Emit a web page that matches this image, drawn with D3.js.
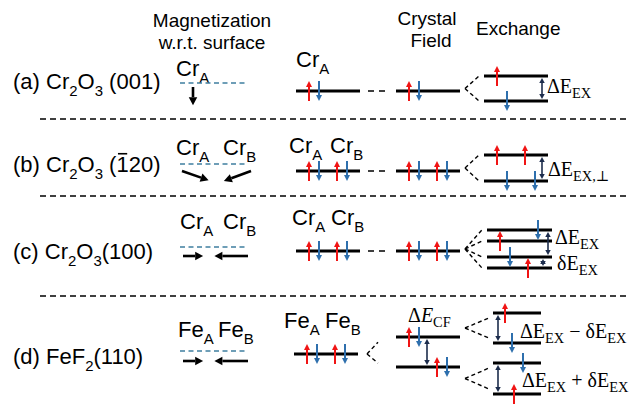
<!DOCTYPE html>
<html lang="en">
<head>
<meta charset="UTF-8">
<title>Magnetization and level splitting</title>
<style>
  html, body { margin: 0; padding: 0; background: #fff; }
  svg text { white-space: pre; }
</style>
</head>
<body>
<script src="https://d3js.org/d3.v7.min.js"></script>
<script>
// ---- data ----
const panelIds = ['(a)', '(b)', '(c)', '(d)'];
const compounds = ['Cr_2O_3', 'Cr_2O_3', 'Cr_2O_3', 'FeF_2'];
const facets = [' (001)', ' (^1^20)', '(100)', '(110)'];   // ^1^ = overlined 1
const siteLabels = [['Cr_A'], ['Cr_A', 'Cr_B'], ['Cr_A', 'Cr_B'], ['Fe_A', 'Fe_B']];
// moment per site [mx, my], my < 0 points into the surface
const moments = [
  [[0, -0.65]],
  [[0.95, -0.33], [-0.97, -0.36]],
  [[0.72, 0], [-1.2, 0]],
  [[0.72, 0], [-1.2, 0]]
];
// spins: [slot, dir] on the atomic level
const atomSpins = [
  [[0, 'u'], [1, 'd']],
  [[0, 'u'], [1, 'd'], [2.8, 'u'], [3.8, 'd']],
  [[0, 'u'], [1, 'd'], [2.8, 'u'], [3.8, 'd']],
  [[0, 'u'], [1, 'd'], [2.8, 'u'], [3.8, 'd']]
];
// crystal field levels (relative energy) and their spins [level, slot, dir]
const cfEnergies = [[0], [0], [0], [1.3, -1.0]];
const cfSpins = [
  [[0, 0, 'u'], [0, 1, 'd']],
  [[0, 0, 'u'], [0, 1, 'd'], [0, 2.8, 'u'], [0, 3.8, 'd']],
  [[0, 0, 'u'], [0, 1, 'd'], [0, 2.8, 'u'], [0, 3.8, 'd']],
  [[0, 0, 'u'], [0, 1, 'd'], [1, 2.8, 'u'], [1, 3.8, 'd']]
];
// exchange-split levels (relative energy), parent crystal-field level, spins
const exEnergies = [[1.15, -0.77], [1.23, -0.77], [1.62, 0.77, -0.46, -1.31], [3.15, 0.85, -0.69, -3.08]];
const exParent = [[0, 0], [0, 0], [0, 0, 0, 0], [0, 0, 1, 1]];
const exSpins = [
  [[0, 0, 'u'], [1, 1, 'd']],
  [[0, 0, 'u'], [0, 2.8, 'u'], [1, 1, 'd'], [1, 3.8, 'd']],
  [[0, 3.8, 'd'], [1, 0, 'u'], [2, 1, 'd'], [3, 2.8, 'u']],
  [[0, -0.1, 'u'], [1, 0.6, 'd'], [2, 1.7, 'd'], [3, 0.8, 'u']]
];
const exGaps = [[[0, 1]], [[0, 1]], [[0, 2], [2, 3]], [[0, 1], [2, 3]]];
const gapLabels = [
  ['\u0394E_{EX}'],
  ['\u0394E_{EX,\u22a5}'],
  ['\u0394E_{EX}', '\u03b4E_{EX}'],
  ['\u0394E_{EX} \u2212 \u03b4E_{EX}', '\u0394E_{EX} + \u03b4E_{EX}']
];
const cfGapLabel = '\u0394*E*_{CF}';
const headers = [['Magnetization', 'w.r.t. surface'], ['Crystal', 'Field'], ['Exchange']];

// ---- layout ----
const W = 641, H = 405;
const RED = '#f01414', BLUE = '#2e6fad', NAVY = '#1c2c4c', SURF = '#3f7fa0';
const SANS = "'Liberation Sans', Arial, sans-serif";
const SERIF = "'Liberation Serif', 'DejaVu Serif', serif";
const dividers = [119, 196, 296];
const rowLayout = [
  { label: 89, magSite: 76, magSiteX: [176], surf: 83, tailY: 87, tailX: [193],
    lvlSite: 67, lvlSiteX: [296], level: 91, atomX: 296, cfX: 396, exX: 484, exW: 64,
    gapX: [58], labX: [63], labDy: [4.5], fan: 1 },
  { label: 172, magSite: 155, magSiteX: [176, 223], surf: 164, tailY: 171, tailX: [182, 251],
    lvlSite: 153, lvlSiteX: [289, 330], level: 171, atomX: 296, cfX: 396, exX: 484, exW: 64,
    gapX: [58], labX: [64], labDy: [8], fan: 1 },
  { label: 259, magSite: 229, magSiteX: [180, 223], surf: 247, tailY: 256, tailX: [183, 248],
    lvlSite: 225, lvlSiteX: [292, 331], level: 251, atomX: 296, cfX: 396, exX: 487, exW: 65,
    gapX: [61, 56], labX: [68, 70], labDy: [0.5, 7.5], fan: 1 },
  { label: 364, magSite: 337, magSiteX: [178, 218], surf: 351, tailY: 361, tailX: [183, 248],
    lvlSite: 328, lvlSiteX: [284, 325], level: 354, atomX: 294, cfX: 396, exX: 493, exW: 48,
    gapX: [5, 5], labX: [27, 29], labDy: [10, 8.5], fan: 0.65 }
];
const LEVEL_W = 64;

const eY = d3.scaleLinear().domain([-1, 1]).range([13, -13]);   // energy -> px offset
const slotX = d3.scaleLinear().domain([0, 1]).range([13, 23]);  // spin slot -> px from level start
const mPx = d3.scaleLinear().domain([0, 1]).range([0, 28]);     // moment -> px

const svg = d3.select('body').append('svg').attr('width', W).attr('height', H);

// tiny markup: _X or _{..} subscript, *..* italic, ^..^ overline
function rich(g, str, x, y, size, family, anchor, subRatio, subShift) {
  subRatio = subRatio || 0.68;
  subShift = subShift || 0.3;
  const t = g.append('text')
    .attr('x', x).attr('y', y)
    .attr('font-size', size).attr('font-family', family)
    .attr('text-anchor', anchor || 'start').attr('fill', '#000');
  let shift = 0, idx = 0;
  const bars = [];
  const re = /_\{([^}]*)\}|_(.)|\*([^*]*)\*|\^([^^]*)\^|([^_*^]+)/g;
  let m;
  while ((m = re.exec(str))) {
    const sub = m[1] !== undefined ? m[1] : m[2];
    if (sub !== undefined) {
      const s = size * subShift;
      t.append('tspan').attr('dy', s - shift).attr('font-size', size * subRatio).text(sub);
      shift = s;
      idx += sub.length;
    } else {
      const txt = m[3] !== undefined ? m[3] : (m[4] !== undefined ? m[4] : m[5]);
      const ts = t.append('tspan').attr('dy', -shift).text(txt);
      if (m[3] !== undefined) ts.attr('font-style', 'italic');
      if (m[4] !== undefined) bars.push([idx, txt.length]);
      shift = 0;
      idx += txt.length;
    }
  }
  // overline drawn just above the cap height of the marked characters
  bars.forEach(([start, n]) => {
    const a = t.node().getExtentOfChar(start);
    const b = t.node().getExtentOfChar(start + n - 1);
    g.append('line')
      .attr('x1', a.x + 1.5).attr('x2', b.x + b.width - 1.5)
      .attr('y1', y - size * 0.83).attr('y2', y - size * 0.83)
      .attr('stroke', '#000').attr('stroke-width', 1.6);
  });
  return t;
}

function arrow(g, x1, y1, x2, y2, color, w, hl, hw) {
  const dx = x2 - x1, dy = y2 - y1, L = Math.hypot(dx, dy);
  const ux = dx / L, uy = dy / L;
  const bx = x2 - ux * hl, by = y2 - uy * hl;
  g.append('line').attr('x1', x1).attr('y1', y1).attr('x2', bx).attr('y2', by)
    .attr('stroke', color).attr('stroke-width', w);
  g.append('path')
    .attr('d', `M${x2},${y2}L${bx - uy * hw / 2},${by + ux * hw / 2}L${bx + uy * hw / 2},${by - ux * hw / 2}Z`)
    .attr('fill', color);
}

function doubleArrow(g, x, y1, y2) {
  const hl = 5, hw = 5.5;
  g.append('line').attr('x1', x).attr('x2', x).attr('y1', y1 + hl).attr('y2', y2 - hl)
    .attr('stroke', NAVY).attr('stroke-width', 1.6);
  g.append('path').attr('d', `M${x},${y1}L${x - hw / 2},${y1 + hl}L${x + hw / 2},${y1 + hl}Z`).attr('fill', NAVY);
  g.append('path').attr('d', `M${x},${y2}L${x - hw / 2},${y2 - hl}L${x + hw / 2},${y2 - hl}Z`).attr('fill', NAVY);
}

function spin(g, x, y, dir) {
  if (dir === 'u') arrow(g, x, y + 10, x, y - 10, RED, 2, 6, 6);
  else arrow(g, x, y - 10, x, y + 10, BLUE, 2, 6, 6);
}

function level(g, x, y, w) {
  g.append('line').attr('x1', x).attr('x2', x + w).attr('y1', y).attr('y2', y)
    .attr('stroke', '#000').attr('stroke-width', 3);
}

function dashed(g, x1, y1, x2, y2, dash, color, w) {
  g.append('line').attr('x1', x1).attr('y1', y1).attr('x2', x2).attr('y2', y2)
    .attr('stroke', color || '#000').attr('stroke-width', w || 1.4)
    .attr('stroke-dasharray', dash);
}

function mathLabel(g, str, x, y) {
  return rich(g, str, x, y, 20, SERIF, 'start', 0.72, 0.25);
}

// headers
const hdr = svg.append('g');
rich(hdr, headers[0][0], 212, 27, 19, SANS, 'middle');
rich(hdr, headers[0][1], 212, 49, 19, SANS, 'middle');
rich(hdr, headers[1][0], 427, 25, 19, SANS, 'middle');
rich(hdr, headers[1][1], 431, 47, 19, SANS, 'middle');
rich(hdr, headers[2][0], 476, 35, 19, SANS, 'start');

// row dividers
svg.append('g').selectAll('line').data(dividers).join('line')
  .attr('x1', 40).attr('x2', 628).attr('y1', d => d).attr('y2', d => d)
  .attr('stroke', '#000').attr('stroke-width', 1.4).attr('stroke-dasharray', '6,4');

// rows
const rows = svg.selectAll('g.row').data(panelIds).join('g').attr('class', 'row');

rows.each(function (id, i) {
  const g = d3.select(this);
  const L = rowLayout[i];

  // panel label
  rich(g, `${id} ${compounds[i]}${facets[i]}`, 13, L.label, 22, SANS);

  // magnetization column
  siteLabels[i].forEach((s, k) => rich(g, s, L.magSiteX[k], L.magSite, 22, SANS));
  dashed(g, 180, L.surf, 247, L.surf, '5,3.5', SURF, 1.5);
  moments[i].forEach(([mx, my], k) => {
    const x0 = L.tailX[k], y0 = L.tailY;
    arrow(g, x0, y0, x0 + mPx(mx), y0 - mPx(my), '#000', 2.6, 8, 8.5);
  });

  // atomic level
  siteLabels[i].forEach((s, k) => rich(g, s, L.lvlSiteX[k], L.lvlSite, 22, SANS));
  level(g, L.atomX, L.level, LEVEL_W);
  atomSpins[i].forEach(([slot, dir]) => spin(g, L.atomX + slotX(slot), L.level, dir));

  // crystal field
  const cfY = cfEnergies[i].map(e => L.level + eY(e));
  if (cfY.length === 1) {
    dashed(g, L.atomX + LEVEL_W + 8, L.level, L.cfX - 6, L.level, '6,5');
  } else {
    const vx = L.atomX + LEVEL_W + 9;
    cfY.forEach(y => dashed(g, vx, L.level, vx + 11, L.level + (y - L.level) * 0.7, '4,3'));
    doubleArrow(g, L.cfX + 31, cfY[0] + 2, cfY[1] - 2);
    mathLabel(g, cfGapLabel, 408, 322);
  }
  cfY.forEach(y => level(g, L.cfX, y, LEVEL_W));
  cfSpins[i].forEach(([lv, slot, dir]) => spin(g, L.cfX + slotX(slot), cfY[lv], dir));

  // exchange splitting
  const exY = exEnergies[i].map(e => L.level + eY(e));
  cfY.forEach((py, p) => {
    const kids = exY.filter((y, k) => exParent[i][k] === p);
    const vy = (d3.min(kids) + d3.max(kids)) / 2;
    const vx = L.cfX + LEVEL_W + 5;
    kids.forEach(y => dashed(g, vx, vy, L.exX - 5, vy + (y - vy) * L.fan, '4,3'));
  });
  exY.forEach(y => level(g, L.exX, y, L.exW));
  exSpins[i].forEach(([lv, slot, dir]) => spin(g, L.exX + slotX(slot), exY[lv], dir));
  exGaps[i].forEach(([a, b], k) => {
    doubleArrow(g, L.exX + L.gapX[k], exY[a] + 2, exY[b] - 2);
    mathLabel(g, gapLabels[i][k], L.exX + L.labX[k], (exY[a] + exY[b]) / 2 + L.labDy[k]);
  });
});
</script>
</body>
</html>
